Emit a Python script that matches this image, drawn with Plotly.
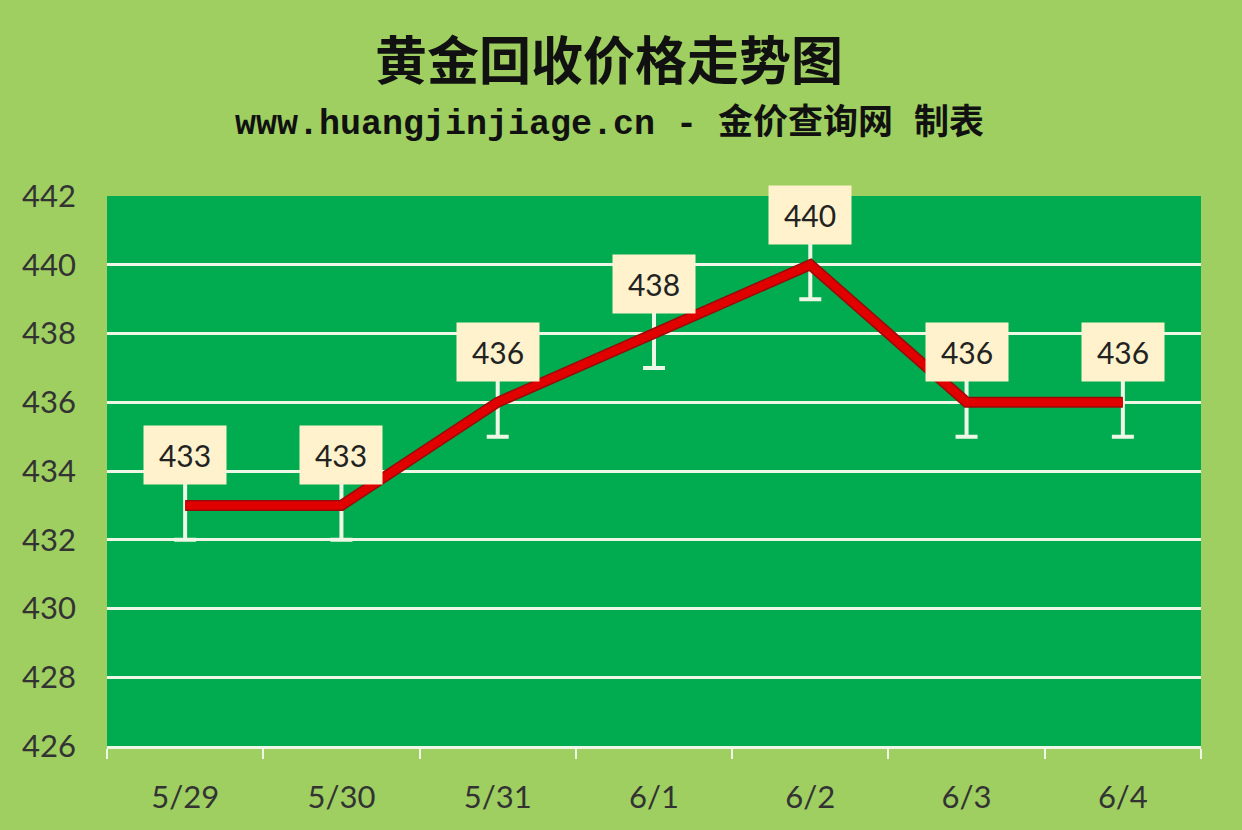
import plotly.graph_objects as go

# Gold recycling price, one value per day
dates = ['5/29', '5/30', '5/31', '6/1', '6/2', '6/3', '6/4']
prices = [433, 433, 436, 438, 440, 436, 436]
err = [1, 1, 1, 1, 1, 1, 1]
y_ticks = [426, 428, 430, 432, 434, 436, 438, 440, 442]

bg_color = '#9ECF60'
plot_color = '#00AC4F'
grid_color = '#EEF7E6'
num_font = 'Lato, Noto Sans'

fig = go.Figure()

# white error bars, drawn first so the line sits over them
fig.add_trace(go.Scatter(x=dates, y=prices, mode='markers',
                         marker=dict(opacity=0),
                         error_y=dict(type='data', array=err, color=grid_color,
                                      thickness=4, width=11),
                         hoverinfo='skip', showlegend=False))
# dark edge + red line
fig.add_trace(go.Scatter(x=dates, y=prices, mode='lines',
                         line=dict(color='#9A0A0A', width=11), showlegend=False))
fig.add_trace(go.Scatter(x=dates, y=prices, mode='lines',
                         line=dict(color='#E00000', width=8), showlegend=False))

# data labels in cream boxes
for d, p in zip(dates, prices):
    fig.add_annotation(x=d, y=p, xref='x', yref='y', text=str(p), showarrow=False,
                       yshift=50, width=80, height=56, bgcolor='#FFF2CC',
                       font=dict(family=num_font, size=30, color='#222222'))

# titles (paper y: plot spans 196..746 px)
fig.add_annotation(text='黄金回收价格走势图', xref='paper', yref='paper',
                   x=0.459, y=1.252, yanchor='middle', showarrow=False,
                   font=dict(family='Noto Sans CJK SC', size=52, color='#111111', weight='bold'))
fig.add_annotation(text='www.huangjinjiage.cn - 金价查询网 制表', xref='paper', yref='paper',
                   x=0.459, y=1.131, yanchor='middle', showarrow=False,
                   font=dict(family='Liberation Mono, Noto Sans CJK SC', size=35,
                             color='#111111', weight='bold'))

fig.update_layout(
    width=1242, height=830,
    margin=dict(l=107, r=41, t=196, b=84),
    paper_bgcolor=bg_color,
    plot_bgcolor=plot_color,
    showlegend=False,
)
fig.update_xaxes(
    type='category', tickson='boundaries', range=[-0.5, len(dates) - 0.5],
    showline=True, linecolor=grid_color, linewidth=3,
    ticks='outside', ticklen=10, tickwidth=2, tickcolor=grid_color,
    showgrid=False, ticklabelstandoff=22,
    tickfont=dict(family=num_font, size=31, color='#333333'),
)
fig.update_yaxes(
    range=[426, 442], tickvals=y_ticks,
    showgrid=True, gridcolor=grid_color, gridwidth=3,
    zeroline=False, showline=False, ticks='',
    ticklabelstandoff=30,
    tickfont=dict(family=num_font, size=31, color='#333333'),
)

fig.write_html('out.html', config={'displayModeBar': False},
               post_script="document.body.style.margin='0';")
